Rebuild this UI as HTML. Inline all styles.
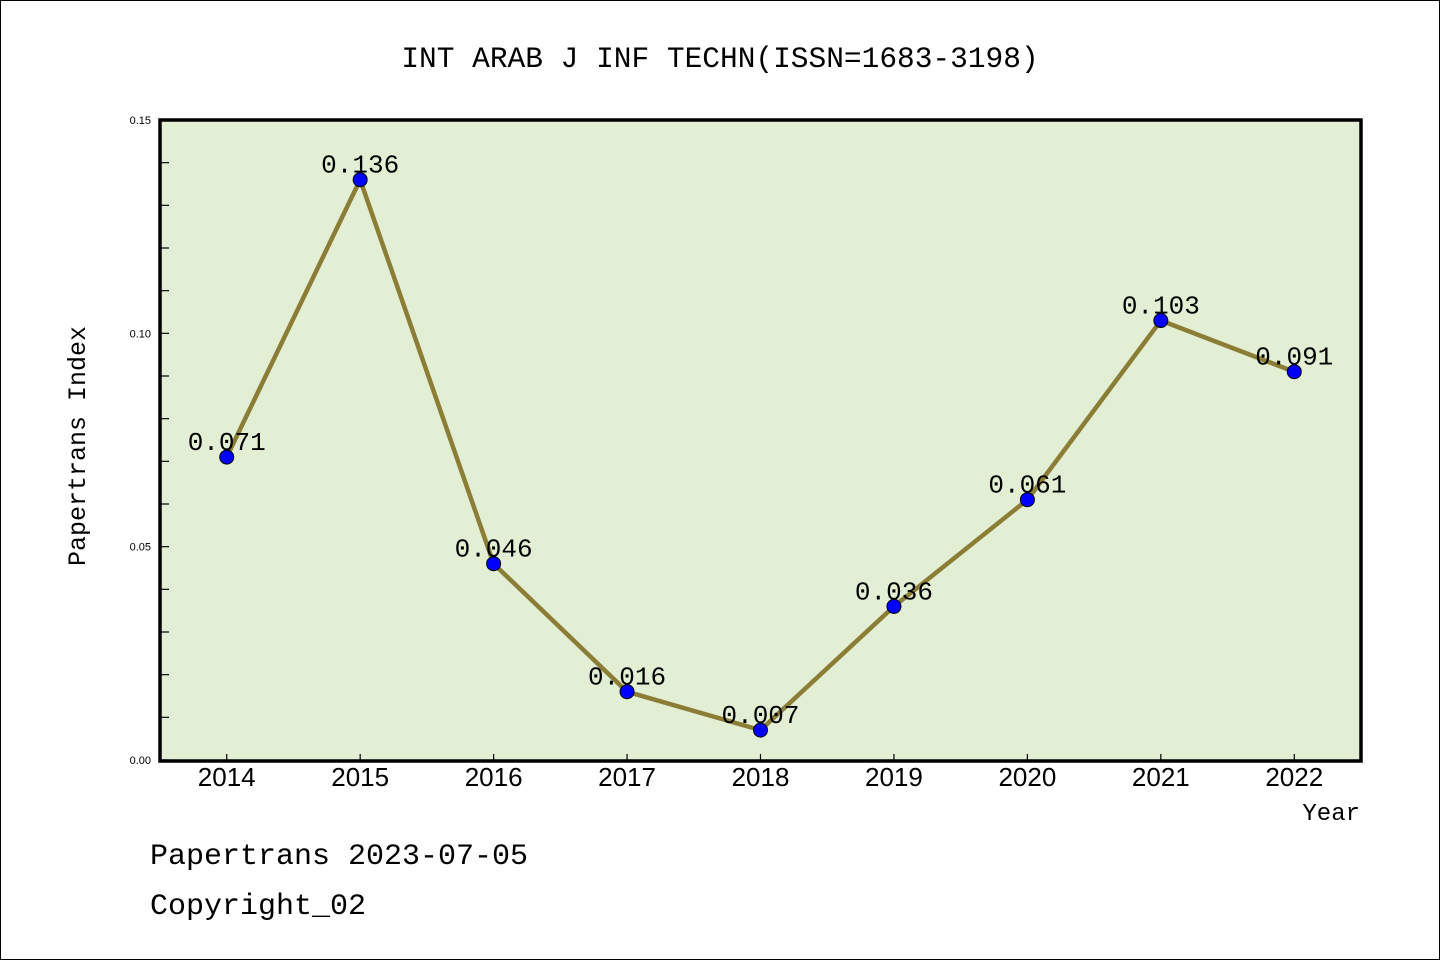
<!DOCTYPE html>
<html><head><meta charset="utf-8"><style>
html,body{margin:0;padding:0;background:#fff;}
svg{display:block;}
</style></head><body>
<svg id="chart" width="1440" height="960" xmlns="http://www.w3.org/2000/svg">
<rect x="0.5" y="0.5" width="1439" height="959" fill="#fff" stroke="#000" stroke-width="1"/>
<text x="720" y="67" text-anchor="middle" font-family="Liberation Mono, monospace" font-size="29.5">INT ARAB J INF TECHN(ISSN=1683-3198)</text>
<rect x="160" y="120" width="1201" height="641" fill="#e2efd5"/>
<g id="yticks"></g>
<g id="xticks"></g>
<g id="series"></g>
<rect x="160" y="120" width="1201" height="641" fill="none" stroke="#000" stroke-width="3.5"/>
<text transform="translate(85,446) rotate(-90)" text-anchor="middle" font-family="Liberation Mono, monospace" font-size="25">Papertrans Index</text>
<text x="1360" y="820" text-anchor="end" font-family="Liberation Mono, monospace" font-size="24">Year</text>
<text x="150" y="864" font-family="Liberation Mono, monospace" font-size="30">Papertrans 2023-07-05</text>
<text x="150" y="914" font-family="Liberation Mono, monospace" font-size="30">Copyright_02</text>
</svg>
<script>
const years = [2014,2015,2016,2017,2018,2019,2020,2021,2022];
const values = [0.071,0.136,0.046,0.016,0.007,0.036,0.061,0.103,0.091];
const valueLabels = ["0.071","0.136","0.046","0.016","0.007","0.036","0.061","0.103","0.091"];
const yTickLabels = ["0.00","0.05","0.10","0.15"];
const yMajor = [0,0.05,0.10,0.15];
const NS="http://www.w3.org/2000/svg";
const x0=160,x1=1361,y0=760,y1=120;
const xs=v=>x0+(v-2013.5)/9*(x1-x0);
const ys=v=>y0-v/0.15*(y0-y1);
function mk(tag,attrs,parent){const e=document.createElementNS(NS,tag);for(const k in attrs)e.setAttribute(k,attrs[k]);parent.appendChild(e);return e;}
const yt=document.getElementById('yticks'),xt=document.getElementById('xticks'),sg=document.getElementById('series');
for(let i=0;i<=15;i++){
  const y=ys(i*0.01);
  const t=mk('line',{x1:x0,x2:x0+9,y1:y,y2:y,stroke:'#000','stroke-width':1.2},yt);
  
  
}
yMajor.forEach((v,i)=>{
  const t=mk('text',{x:151,y:ys(v)+4,'text-anchor':'end','font-family':'Liberation Sans, sans-serif','font-size':11},yt);
  t.textContent=yTickLabels[i];
  
  
});
years.forEach(yr=>{
  const x=xs(yr);
  const t=mk('line',{x1:x,x2:x,y1:y0,y2:y0-6,stroke:'#000','stroke-width':1.2},xt);
  
  
  const l=mk('text',{x:x,y:786,'text-anchor':'middle','font-family':'Liberation Sans, sans-serif','font-size':26},xt);
  l.textContent=String(yr);
  
  
});
const pts=years.map((yr,i)=>xs(yr)+','+ys(values[i])).join(' ');
const pl=mk('polyline',{points:pts,fill:'none',stroke:'#8b7d35','stroke-width':4.5,'stroke-linejoin':'round'},sg);


years.forEach((yr,i)=>{
  const c=mk('circle',{cx:xs(yr),cy:ys(values[i]),r:7,fill:'#0000ff',stroke:'#000','stroke-width':1},sg);
  
  
});
years.forEach((yr,i)=>{
  const t=mk('text',{x:xs(yr),y:ys(values[i])-7,'text-anchor':'middle','font-family':'Liberation Mono, monospace','font-size':26},sg);
  t.textContent=valueLabels[i];
  
  
});
</script>
</body></html>
